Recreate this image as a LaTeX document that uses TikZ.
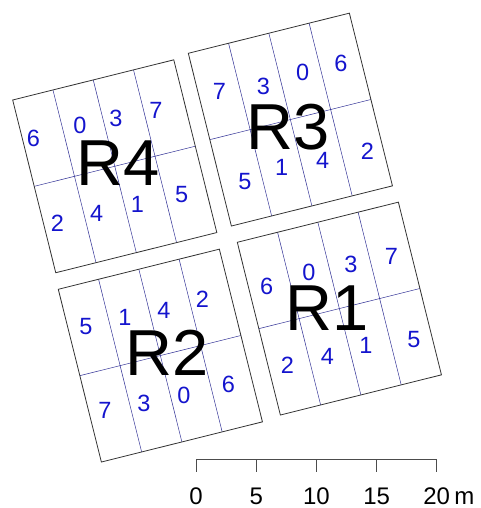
\documentclass[tikz,border=0pt]{standalone}
\usepackage{fontspec}
\setmainfont{Liberation Sans}
\usetikzlibrary{positioning}
\definecolor{trtblue}{RGB}{20,20,205}
\definecolor{lineblue}{RGB}{50,50,150}

\begin{document}
\begin{tikzpicture}[
        x=1pt, y=-1pt,
        block/.style={draw=black!80, line width=0.8pt},
        subplot/.style={draw=lineblue, line width=0.5pt},
        trt/.style={text=trtblue, font=\fontsize{23.5}{23.5}\selectfont, inner sep=0pt},
        rep/.style={font=\fontsize{65}{65}\selectfont, inner sep=0pt},
        scalelbl/.style={font=\fontsize{24}{24}\selectfont, inner sep=0pt},
        bar/.style={draw=black!70, line width=0.8pt}
    ]
        \useasboundingbox (0,0) rectangle (481,508);

        % R4
        \begin{scope}[shift={(12.7,100)}, rotate=14]
            \draw[subplot] (41.5,0) -- (41.5,178) (83,0) -- (83,178) (124.5,0) -- (124.5,178) (0,89) -- (166,89);
            \draw[block] (0,0) rectangle (166,178);
        \end{scope}
        % R3
        \begin{scope}[shift={(188.3,53.3)}, rotate=14]
            \draw[subplot] (41.5,0) -- (41.5,178) (83,0) -- (83,178) (124.5,0) -- (124.5,178) (0,89) -- (166,89);
            \draw[block] (0,0) rectangle (166,178);
        \end{scope}
        % R2
        \begin{scope}[shift={(58.3,289.3)}, rotate=14]
            \draw[subplot] (41.5,0) -- (41.5,178) (83,0) -- (83,178) (124.5,0) -- (124.5,178) (0,89) -- (166,89);
            \draw[block] (0,0) rectangle (166,178);
        \end{scope}
        % R1
        \begin{scope}[shift={(237.3,242.3)}, rotate=14]
            \draw[subplot] (41.5,0) -- (41.5,178) (83,0) -- (83,178) (124.5,0) -- (124.5,178) (0,89) -- (166,89);
            \draw[block] (0,0) rectangle (166,178);
        \end{scope}

        \node[trt] (r4c1) at (33.3,138.3) {6};
        \node[trt] (r4c2) at (80,125) {0};
        \node[trt] (r4c3) at (116,118.3) {3};
        \node[trt] (r4c4) at (156,110.7) {7};
        \node[trt] (r4c5) at (57.3,223.3) {2};
        \node[trt] (r4c6) at (96.7,213.3) {4};
        \node[trt] (r4c7) at (137.3,204) {1};
        \node[trt] (r4c8) at (181.7,195) {5};
        \node[rep] (r4) at (118.3,163.3) {R4};

        \node[trt] (r3c1) at (219.3,91.7) {7};
        \node[trt] (r3c2) at (263.3,86) {3};
        \node[trt] (r3c3) at (302.7,72.7) {0};
        \node[trt] (r3c4) at (341,63.3) {6};
        \node[trt] (r3c5) at (245,181.7) {5};
        \node[trt] (r3c6) at (281.7,167.7) {1};
        \node[trt] (r3c7) at (322.7,160) {4};
        \node[trt] (r3c8) at (367.3,151.7) {2};
        \node[rep] (r3) at (288.3,126.7) {R3};

        \node[trt] (r2c1) at (86,326.7) {5};
        \node[trt] (r2c2) at (125,317.3) {1};
        \node[trt] (r2c3) at (164,310) {4};
        \node[trt] (r2c4) at (202.3,299.3) {2};
        \node[trt] (r2c5) at (105,410) {7};
        \node[trt] (r2c6) at (144,403.3) {3};
        \node[trt] (r2c7) at (184,395.7) {0};
        \node[trt] (r2c8) at (228.3,384) {6};
        \node[rep] (r2) at (166.7,353.3) {R2};

        \node[trt] (r1c1) at (266.7,286) {6};
        \node[trt] (r1c2) at (309,272.7) {0};
        \node[trt] (r1c3) at (351,264) {3};
        \node[trt] (r1c4) at (391.3,256.7) {7};
        \node[trt] (r1c5) at (287.3,365) {2};
        \node[trt] (r1c6) at (327.3,356.7) {4};
        \node[trt] (r1c7) at (366,345) {1};
        \node[trt] (r1c8) at (414,340) {5};
        \node[rep] (r1) at (326.7,308.3) {R1};

        % scale bar
        \coordinate (s0) at (196,459);
        \coordinate (s5) at (256.2,459);
        \coordinate (s10) at (316.4,459);
        \coordinate (s15) at (376.6,459);
        \coordinate (s20) at (436.7,459);
        \coordinate (t0) at (196,471.7);
        \coordinate (t5) at (256.2,471.7);
        \coordinate (t10) at (316.4,471.7);
        \coordinate (t15) at (376.6,471.7);
        \coordinate (t20) at (436.7,471.7);

        \draw[bar] (s0) -- (s20);
        \draw[bar] (s0) -- (t0);
        \draw[bar] (s5) -- (t5);
        \draw[bar] (s10) -- (t10);
        \draw[bar] (s15) -- (t15);
        \draw[bar] (s20) -- (t20);

        \node[scalelbl, below=16pt of t0] (l0) {0};
        \node[scalelbl, below=16pt of t5] (l5) {5};
        \node[scalelbl, below=16pt of t10] (l10) {10};
        \node[scalelbl, below=16pt of t15] (l15) {15};
        \node[scalelbl, below=16pt of t20] (l20) {20};
        \node[scalelbl, base right=4pt of l20] (lm) {m};
    \end{tikzpicture}
\end{document}
